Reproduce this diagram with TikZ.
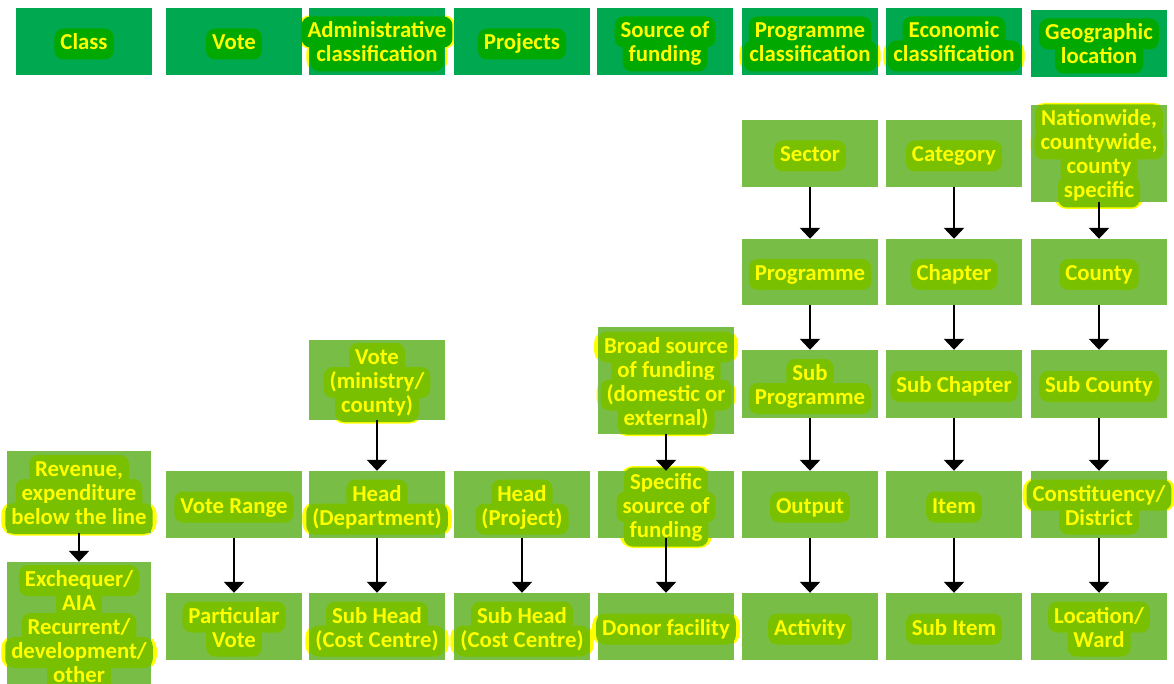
\documentclass[tikz,border=0pt]{standalone}
\usepackage{fontspec}
\setmainfont{Carlito}
\usetikzlibrary{arrows.meta}

\definecolor{hdrgreen}{RGB}{0,168,80}
\definecolor{hdrhl}{RGB}{0,168,0}
\definecolor{bodygreen}{RGB}{120,190,70}
\definecolor{bodyhl}{RGB}{120,192,0}
\definecolor{txtyellow}{RGB}{255,255,0}

\pgfdeclarelayer{bg}
\pgfdeclarelayer{glow}
\pgfdeclarelayer{boxes}
\pgfsetlayers{bg,glow,boxes,main}

\tikzset{
  hdr box/.style={fill=hdrgreen},
  body box/.style={fill=bodygreen},
  hdr hl/.style={fill=hdrhl},
  body hl/.style={fill=bodyhl},
  cellbox/.style={rectangle, draw=none, inner sep=0pt},
  txt/.style={font=\fontsize{22.8}{24}\selectfont\bfseries, text height=16pt, text depth=4pt,
              inner xsep=6pt, inner ysep=5.5pt, rounded corners=9pt},
  linetxt/.style={txt, text=txtyellow},
  glowtxt/.style={txt, fill=txtyellow, inner xsep=10pt, inner ysep=7pt, rounded corners=13pt},
  arr/.style={line width=2.6pt, -{Triangle[width=20pt,length=11pt]}},
}

% #1 name, #2 centre x, #3 centre y, #4 width, #5 height, #6 kind (hdr/body),
% #7 number of lines, #8 list of lines
\newcommand\cell[8]{%
  \begin{pgfonlayer}{boxes}
    \node[cellbox, #6 box, minimum width=#4pt, minimum height=#5pt] (#1) at (#2,#3) {};
  \end{pgfonlayer}
  \foreach \linetext [count=\i] in {#8} {
    \pgfmathsetmacro\dy{-(\i-(#7+1)/2)*24-2.5}
    \begin{pgfonlayer}{glow}
      \node[glowtxt] (#1-g\i) at ([yshift=\dy pt]#1.center) {\phantom{\linetext}};
    \end{pgfonlayer}
    \node[linetxt, #6 hl] (#1-\i) at ([yshift=\dy pt]#1.center) {\linetext};
  }%
}

\begin{document}
\begin{tikzpicture}[x=1pt,y=-1pt]
\begin{pgfonlayer}{bg}
  \fill[white] (0,0) rectangle (1174,684);
\end{pgfonlayer}
\useasboundingbox (0,0) rectangle (1174,684);

% header row
\cell{hclass}{84}{41.5}{136}{67}{hdr}{1}{Class}
\cell{hvote}{234}{41.5}{136}{67}{hdr}{1}{Vote}
\cell{hadmin}{377}{41.5}{136}{67}{hdr}{2}{Administrative,classification}
\cell{hproj}{522}{41.5}{136}{67}{hdr}{1}{Projects}
\cell{hsrc}{665}{41.5}{136}{67}{hdr}{2}{Source of,funding}
\cell{hprog}{810}{41.5}{136}{67}{hdr}{2}{Programme,classification}
\cell{hecon}{954}{41.5}{136}{67}{hdr}{2}{Economic,classification}
\cell{hgeo}{1099}{43.5}{136}{67}{hdr}{2}{Geographic,location}

% class
\cell{rev}{79}{492}{144}{82}{body}{3}{{Revenue,},expenditure,below the line}
\cell{exch}{79}{626}{144}{128}{body}{5}{Exchequer/,AIA,Recurrent/,development/,other}

% vote
\cell{vrange}{234}{504.5}{136}{67}{body}{1}{Vote Range}
\cell{pvote}{234}{626.5}{136}{67}{body}{2}{Particular,Vote}

% administrative classification
\cell{vmin}{377}{380}{136}{80}{body}{3}{Vote,{(ministry/},{county)}}
\cell{hdept}{377}{504.5}{136}{67}{body}{2}{Head,{(Department)}}
\cell{shead}{377}{626.5}{136}{67}{body}{2}{Sub Head,{(Cost Centre)}}

% projects
\cell{hproject}{522}{504.5}{136}{67}{body}{2}{Head,{(Project)}}
\cell{sheadp}{522}{626.5}{136}{67}{body}{2}{Sub Head,{(Cost Centre)}}

% source of funding
\cell{broad}{666}{380.5}{136}{107}{body}{4}{Broad source,of funding,{(domestic or},{external)}}
\cell{spec}{666}{504.5}{136}{67}{body}{3}{Specific,source of,funding}
\cell{donor}{666}{626.5}{136}{67}{body}{1}{Donor facility}

% programme classification
\cell{sector}{810}{153.5}{136}{67}{body}{1}{Sector}
\cell{prog}{810}{272}{136}{66}{body}{1}{Programme}
\cell{subprog}{810}{384}{136}{68}{body}{2}{Sub,Programme}
\cell{output}{810}{504.5}{136}{67}{body}{1}{Output}
\cell{activity}{810}{626.5}{136}{67}{body}{1}{Activity}

% economic classification
\cell{category}{954}{153.5}{136}{67}{body}{1}{Category}
\cell{chapter}{954}{272}{136}{66}{body}{1}{Chapter}
\cell{subchap}{954}{384}{136}{68}{body}{1}{Sub Chapter}
\cell{item}{954}{504.5}{136}{67}{body}{1}{Item}
\cell{subitem}{954}{626.5}{136}{67}{body}{1}{Sub Item}

% geographic location
\cell{nation}{1099}{153.5}{136}{97}{body}{4}{{Nationwide,},{countywide,},county,specific}
\cell{county}{1099}{272}{136}{66}{body}{1}{County}
\cell{subcounty}{1099}{384}{136}{68}{body}{1}{Sub County}
\cell{const}{1099}{504.5}{136}{67}{body}{2}{Constituency/,District}
\cell{ward}{1099}{626.5}{136}{67}{body}{2}{Location/,Ward}

% hierarchy arrows
\foreach \a/\b in {rev/exch, vrange/pvote, vmin/hdept, hdept/shead, hproject/sheadp,
                   broad/spec, spec/donor,
                   sector/prog, prog/subprog, subprog/output, output/activity,
                   category/chapter, chapter/subchap, subchap/item, item/subitem,
                   nation/county, county/subcounty, subcounty/const, const/ward}
  \draw[arr] (\a.south) -- (\b.north);
\end{tikzpicture}
\end{document}
